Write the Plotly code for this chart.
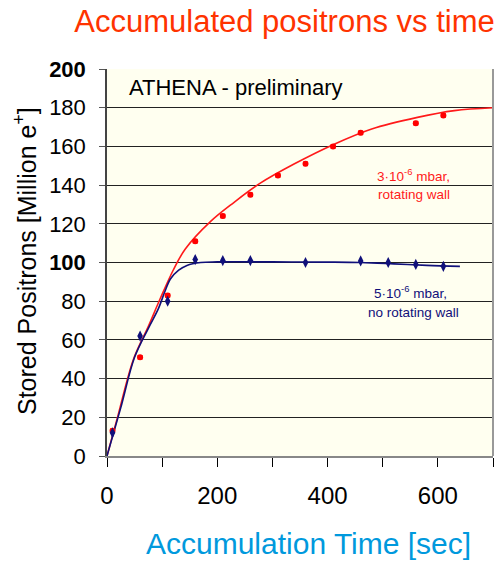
import plotly.graph_objects as go

# Measured points
red_x = [10, 60, 110, 160, 210, 260, 310, 360, 410, 460, 560, 610]
red_y = [13, 51, 83, 111, 124, 135, 145, 151, 160, 167, 172, 176]
blue_x = [10, 60, 110, 160, 210, 260, 360, 460, 510, 560, 610]
blue_y = [12, 62, 80, 101.5, 101, 101, 100, 100.8, 100, 99, 98]

# Fit curves
red_fit_x = [0, 20, 48, 75, 96, 120, 142, 187, 230, 278, 340, 411, 480, 563, 630, 700]
red_fit_y = [0, 21, 50, 67, 81, 96, 107, 121, 131, 141, 151, 161, 169, 175, 178.5, 180]
blue_fit_x = [0, 25, 50, 75, 93, 105, 115, 130, 145, 170, 200, 300, 400, 460, 520, 580, 640]
blue_fit_y = [0, 25, 51, 66, 76, 85, 91.5, 96, 98.5, 100, 100.3, 100.3, 100.2, 100, 99.3, 98.5, 98]

y_ticks = [0, 20, 40, 60, 80, 100, 120, 140, 160, 180, 200]
y_ticktext = ["0", "20", "40", "60", "80", "<b>100</b>", "120", "140", "160", "180", "<b>200</b>"]
x_ticks = [0, 100, 200, 300, 400, 500, 600, 700]
x_ticktext = ["0", "", "200", "", "400", "", "600", ""]

RED = "#FF1A1A"
BLUE = "#10107A"
FONT = "Liberation Sans, Arial"

W, H = 500, 561
ML, MR, MT, MB = 107, 7, 69, 105
plot_w = W - ML - MR
plot_h = H - MT - MB


def px_x(p):
    return (p - ML) / plot_w


def px_y(p):
    return (H - MB - p) / plot_h


fig = go.Figure()
fig.add_trace(go.Scatter(x=red_fit_x, y=red_fit_y, mode="lines", line=dict(color=RED, width=1.6, shape="spline"), showlegend=False))
fig.add_trace(go.Scatter(x=blue_fit_x, y=blue_fit_y, mode="lines", line=dict(color=BLUE, width=1.6, shape="spline"), showlegend=False))
fig.add_trace(go.Scatter(x=red_x, y=red_y, mode="markers",
                         marker=dict(symbol="circle", size=6, color="#FF0000"),
                         error_y=dict(type="constant", value=1.2, color="#FF0000", thickness=5, width=0),
                         showlegend=False))
fig.add_trace(go.Scatter(x=blue_x, y=blue_y, mode="markers",
                         marker=dict(symbol="diamond-tall", size=8, color=BLUE),
                         showlegend=False))

fig.add_annotation(x=36, y=190.7, xref="x", yref="y", text="ATHENA - preliminary", showarrow=False,
                   xanchor="left", yanchor="middle", font=dict(family=FONT, size=22, color="black"))
for tx, ty, t, c in [(556, 145.2, "3·10<sup>-6</sup> mbar,", RED), (556, 135.4, "rotating wall", RED),
                     (551, 84.9, "5·10<sup>-6</sup> mbar,", BLUE), (555, 74.1, "no rotating wall", BLUE)]:
    fig.add_annotation(x=tx, y=ty, xref="x", yref="y", text=t, showarrow=False,
                       xanchor="center", yanchor="middle", font=dict(family=FONT, size=13.5, color=c))

# axis titles placed as annotations
fig.add_annotation(x=px_x(308), y=px_y(543), xref="paper", yref="paper", text="Accumulation Time [sec]",
                   showarrow=False, xanchor="center", yanchor="middle",
                   font=dict(family=FONT, size=30, color="#0099DD"))
fig.add_annotation(x=px_x(25), y=px_y(261), xref="paper", yref="paper",
                   text="Stored Positrons [Million e<sup>+</sup>]", showarrow=False, textangle=-90,
                   xanchor="center", yanchor="middle", font=dict(family=FONT, size=25, color="black"))

fig.add_shape(type="line", xref="paper", yref="paper", x0=1, x1=1, y0=0, y1=1, line=dict(color="#999999", width=2))

fig.update_layout(
    width=W, height=H,
    margin=dict(l=ML, r=MR, t=MT, b=MB),
    paper_bgcolor="white", plot_bgcolor="#FFFFF0",
    font=dict(family=FONT, size=18, color="black"),
    title=dict(text="Accumulated positrons vs time", x=0.569, xanchor="center", y=1 - 21 / H, yanchor="middle",
               font=dict(family=FONT, size=31, color="#FF3300")),
)
fig.update_xaxes(range=[0, 700], tickvals=x_ticks, ticktext=x_ticktext, ticks="outside", ticklen=9,
                 tickcolor="black", tickfont=dict(size=24), showline=True, linecolor="#888888", linewidth=2,
                 showgrid=False, zeroline=False, ticklabelstandoff=8)
fig.update_yaxes(range=[0, 200], tickvals=y_ticks, ticktext=y_ticktext, ticks="outside", ticklen=6,
                 tickcolor="#555555", tickfont=dict(size=22), showline=True, linecolor="#444444", linewidth=1.5,
                 showgrid=True, gridcolor="#222222", gridwidth=1, zeroline=False, ticklabelstandoff=9)

fig.write_html("out.html")
